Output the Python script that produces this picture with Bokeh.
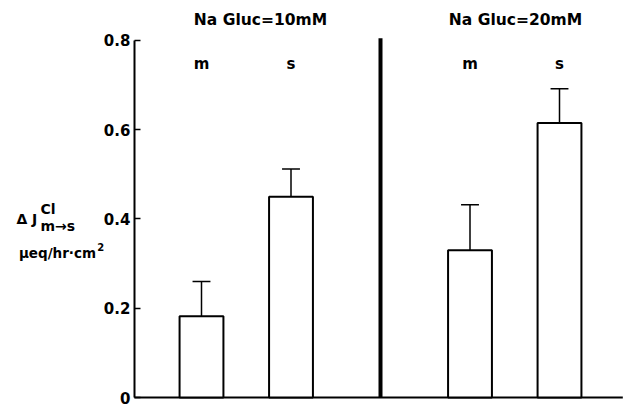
from bokeh.plotting import figure
from bokeh.models import Range1d, Label, ColumnDataSource, FixedTicker
from bokeh.embed import file_html
from bokeh.resources import INLINE

# ---- data ----
groups = ["Na Gluc=10mM", "Na Gluc=20mM"]
group_label_x = [1.659, 4.508]
sides = ["m", "s", "m", "s"]
xpos = [1, 2, 4, 5]
means = [0.182, 0.45, 0.33, 0.615]
err_top = [0.26, 0.512, 0.432, 0.692]
separator_x = [3]
yticks = [0, 0.2, 0.4, 0.6, 0.8]
ytick_labels = ["0", "0.2", "0.4", "0.6", "0.8"]

FONT = "DejaVu Sans"
X0, X1 = -1.2458, 5.7374
Y0, Y1 = -0.0224, 0.8896
AXIS_X = 0.25

p = figure(width=625, height=407, output_backend="svg", toolbar_location=None,
           x_range=Range1d(X0, X1), y_range=Range1d(Y0, Y1),
           min_border_left=0, min_border_right=0, min_border_top=0,
           min_border_bottom=0)
p.outline_line_color = None
p.xgrid.visible = False
p.ygrid.visible = False
p.xaxis.visible = False

ya = p.yaxis[0]
ya.fixed_location = AXIS_X
ya.ticker = FixedTicker(ticks=yticks)
ya.major_label_overrides = {t: l for t, l in zip(yticks, ytick_labels)}
ya.bounds = (0, 0.8)
ya.major_tick_in = 6
ya.major_tick_out = 0
ya.minor_tick_in = 0
ya.minor_tick_out = 0
ya.axis_line_width = 2
ya.major_tick_line_width = 1.5
ya.major_label_standoff = 4
ya.major_label_text_font = FONT
ya.major_label_text_font_style = "bold"
ya.major_label_text_font_size = "15px"
ya.major_label_text_color = "black"

# baseline
p.segment(x0=[AXIS_X], y0=[0], x1=[X1 - 0.03], y1=[0], line_color="black", line_width=2)

src = ColumnDataSource(dict(x=xpos, top=means, et=err_top, side=sides))
p.vbar(x="x", top="top", bottom=0, width=0.49, source=src, fill_color="white",
       line_color="black", line_width=2)
p.segment(x0="x", y0="top", x1="x", y1="et", source=src, line_color="black", line_width=1.5)
p.segment(x0=[x - 0.1 for x in xpos], y0=err_top, x1=[x + 0.1 for x in xpos], y1=err_top,
          line_color="black", line_width=1.5)

# separator
p.segment(x0=separator_x, y0=[0], x1=separator_x, y1=[0.805], line_color="black", line_width=4)


def lab(x, y, text, size, align="left"):
    p.add_layout(Label(x=x, y=y, text=text, text_font=FONT, text_font_style="bold",
                       text_font_size=size, text_align=align, text_baseline="middle",
                       text_color="black"))


for x, s in zip(xpos, sides):
    lab(x, 0.748, s, "15px", "center")
for gx, g in zip(group_label_x, groups):
    lab(gx, 0.8448, g, "15.5px", "center")

# y-axis label pieces
lab(-1.068, 0.400, "Δ J", "14px")
lab(-0.799, 0.4213, "Cl", "14px")
lab(-0.799, 0.3854, "m→s", "14px")
lab(-1.040, 0.3249, "μeq/hr·cm", "13.5px")
lab(-0.165, 0.338, "2", "10px")

open("out.html", "w").write(file_html(p, INLINE))
